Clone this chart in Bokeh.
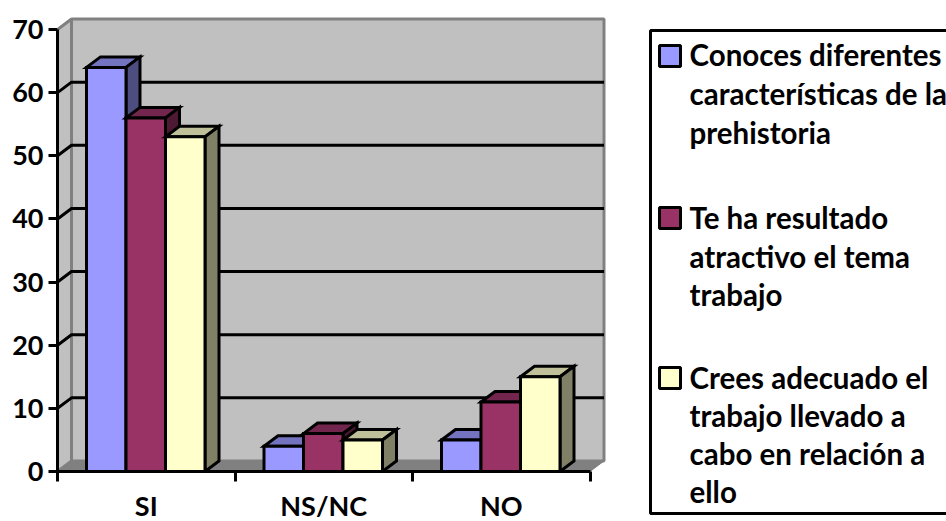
from bokeh.plotting import figure
from bokeh.layouts import row
from bokeh.models import Range1d, FixedTicker
from bokeh.core.properties import value
from bokeh.embed import file_html
from bokeh.resources import INLINE

categories = ["SI", "NS/NC", "NO"]
conoces = [64, 4, 5]
atractivo = [56, 6, 11]
adecuado = [53, 5, 15]
y_ticks = [0, 10, 20, 30, 40, 50, 60, 70]

legend_lines = [["Conoces diferentes", "características de la", "prehistoria"],
                ["Te ha resultado", "atractivo el tema", "trabajo"],
                ["Crees adecuado el", "trabajo llevado a", "cabo en relación a", "ello"]]
front_colors = ["#9999FF", "#993366", "#FFFFCC"]
top_colors = ["#7373BF", "#73264D", "#BFBF99"]
side_colors = ["#4D4D80", "#4D1933", "#808066"]

W, H = 946, 521
SPLIT = 632
PX_LEFT, PX_BASE = 57, 471
PX_X, PX_Y = 177.5, 442 / 70
DX, DY = 14 / PX_X, 10.5 / PX_Y
BAR_W = 39.5 / PX_X
BAR_PAD = 29 / PX_X
FONT = "Lato"
GREY = "#808080"
WALL = "#C0C0C0"
LW = 3
AXIS_EXTRA = 4  # the tick labels of the bottom axis reserve this much beyond the page

p = figure(width=SPLIT, height=H + AXIS_EXTRA, output_backend="svg", toolbar_location=None,
           x_range=Range1d(0, (SPLIT - PX_LEFT) / PX_X), y_range=Range1d(0, PX_BASE / PX_Y),
           min_border_left=PX_LEFT, min_border_right=0, min_border_top=0,
           min_border_bottom=H + AXIS_EXTRA - PX_BASE, outline_line_color=None,
           background_fill_color="white", border_fill_color="white",
           margin=(0, 0, -AXIS_EXTRA, 0))
p.frame_align = False
p.grid.visible = False
n = len(categories)

# walls
p.patch([DX, n + DX, n + DX, DX], [DY, DY, 70 + DY, 70 + DY],
        fill_color=WALL, line_color=GREY, line_width=3)
p.patch([0, DX, DX, 0], [0, DY, 70 + DY, 70], fill_color=WALL, line_color=GREY, line_width=3)
p.patch([0, DX, n + DX, n], [0, DY, DY, 0], fill_color=GREY, line_color=GREY, line_width=1)

# gridlines
for v in y_ticks[1:-1]:
    p.line([0, DX, n + DX], [v, v + DY, v + DY], line_color="black", line_width=LW)

# bars
for c in range(n):
    for s, vals in enumerate([conoces, atractivo, adecuado]):
        v = vals[c]
        x0 = c + BAR_PAD + s * BAR_W
        x1 = x0 + BAR_W
        p.patch([x0, x0 + DX, x1 + DX, x1], [v, v + DY, v + DY, v],
                fill_color=top_colors[s], line_color="black", line_width=LW, line_join="miter")
        p.patch([x1, x1 + DX, x1 + DX, x1], [0, DY, v + DY, v],
                fill_color=side_colors[s], line_color="black", line_width=LW, line_join="miter")
        p.quad(left=x0, right=x1, bottom=0, top=v,
               fill_color=front_colors[s], line_color="black", line_width=LW, line_join="miter")

# axes
ya = p.yaxis[0]
ya.ticker = FixedTicker(ticks=y_ticks)
ya.bounds = (0, 70)
ya.axis_line_color = "black"
ya.axis_line_width = LW
ya.major_tick_line_color = "black"
ya.major_tick_line_width = LW
ya.major_tick_out = 9
ya.major_tick_in = 0
ya.minor_tick_line_color = None
ya.major_label_text_font = FONT
ya.major_label_text_font_style = "bold"
ya.major_label_text_font_size = "27px"
ya.major_label_text_color = "black"
ya.major_label_standoff = 5

xa = p.xaxis[0]
xa.ticker = FixedTicker(ticks=[i + 0.5 for i in range(n)], minor_ticks=list(range(n + 1)))
xa.major_label_overrides = {i + 0.5: c for i, c in enumerate(categories)}
xa.bounds = (0, n)
xa.axis_line_color = "black"
xa.axis_line_width = LW
xa.major_tick_line_color = None
xa.major_tick_out = 0
xa.major_tick_in = 0
xa.minor_tick_line_color = "black"
xa.minor_tick_line_width = LW
xa.minor_tick_out = 10
xa.minor_tick_in = 0
xa.major_label_text_font = FONT
xa.major_label_text_font_style = "bold"
xa.major_label_text_font_size = "27px"
xa.major_label_text_color = "black"
xa.major_label_standoff = 7

# legend panel: a figure whose ranges are page pixels
q = figure(width=W - SPLIT, height=H, output_backend="svg", toolbar_location=None,
           x_range=Range1d(SPLIT, W), y_range=Range1d(H, 0),
           min_border=0, outline_line_color=None, x_axis_type=None, y_axis_type=None,
           background_fill_color="white", border_fill_color="white")
q.frame_align = False
q.grid.visible = False
q.quad(left=[650], right=[W + 10], top=[30], bottom=[513],
       fill_color="white", line_color="black", line_width=LW)
baselines = [[54, 93, 132], [217, 256, 294], [377, 415, 453, 491]]
swatch_tops = [45, 207, 367]
for s, lines in enumerate(legend_lines):
    t = swatch_tops[s]
    q.quad(left=[659], right=[680], top=[t], bottom=[t + 21],
           fill_color=front_colors[s], line_color="black", line_width=LW)
    q.text(x=[689] * len(lines), y=baselines[s], text=lines, text_font=value(FONT),
           text_font_style="bold", text_font_size="29.5px", text_color="black",
           text_baseline="alphabetic", text_align="left")

open("out.html", "w").write(file_html(row(p, q, spacing=0), INLINE))
